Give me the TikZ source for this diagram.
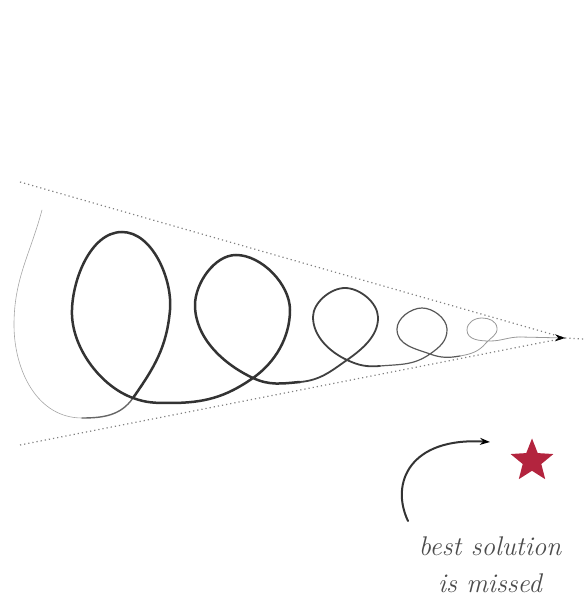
\documentclass[tikz,border=0pt]{standalone}
\usepackage{tikz}
\usetikzlibrary{arrows.meta}
\usetikzlibrary{shapes.geometric}
\definecolor{starred}{HTML}{B3243E}
\begin{document}
\begin{tikzpicture}[
        x=1pt, y=1pt,
        cone/.style={black!50, line width=1.2pt, dash pattern=on 1.2pt off 3pt},
        trail/.style={line cap=round, line join=round},
        faint/.style={trail, black!35, line width=0.6pt},
        light/.style={trail, black!60, line width=1.4pt},
        heavy/.style={trail, black!80, line width=2.5pt},
        medium/.style={trail, black!75, line width=1.8pt},
        fine/.style={trail, black!65, line width=1.2pt},
        hair/.style={trail, black!40, line width=0.8pt},
        arrow/.style={-{Stealth[black, length=10pt, width=7pt]}},
        note/.style={align=center, text=black!70, font=\fontsize{27}{37}\selectfont\itshape}
    ]
        \useasboundingbox (0,0) rectangle (584,605);

        \coordinate (upper) at (20,423);
        \coordinate (lower) at (20,160);
        \coordinate (apex) at (565,267);
        \draw[cone] (upper) -- (apex) -- (584,266);
        \draw[cone] (lower) -- (apex);

        % loops shrinking toward the apex
        \draw[faint] (42,395) to[out=255,in=90] (14,280) to[out=270,in=180] (82,187);
        \draw[light] (82,187) to[out=0,in=235] (133,207);
        \draw[heavy] (133,207) to[out=55,in=265] (170,295)
            to[out=85,in=0,looseness=0.85] (122,373)
            to[out=180,in=92,looseness=0.85] (72,290)
            to[out=272,in=160,looseness=0.85] (133,207) to[out=340,in=180] (170,202)
            to[out=0,in=215] (253,227) to[out=35,in=270,looseness=0.9] (290,295)
            to[out=90,in=0,looseness=0.85] (236,350)
            to[out=180,in=90,looseness=0.85] (195,300)
            to[out=270,in=155,looseness=0.9] (253,227) to[out=335,in=185] (300,223);
        \draw[medium] (300,223) to[out=5,in=215] (347,245) to[out=35,in=272,looseness=0.9] (378,288)
            to[out=92,in=0,looseness=0.85] (345,317) to[out=180,in=90,looseness=0.85] (313,288)
            to[out=270,in=155,looseness=0.9] (347,245) to[out=335,in=185] (380,239);
        \draw[fine] (380,239) to[out=5,in=215] (430,251) to[out=35,in=272] (447,276)
            to[out=92,in=0,looseness=0.85] (422,297) to[out=180,in=90,looseness=0.85] (397,276)
            to[out=270,in=160] (430,251) to[out=340,in=190] (460,249);
        \draw[hair] (460,249) to[out=10,in=230] (486,262) to[out=50,in=275] (497,277)
            to[out=95,in=0] (482,287) to[out=180,in=90] (467,275)
            to[out=270,in=180] (490,264) to[out=0,in=180] (520,268);
        \draw[hair, arrow] (520,268) -- (apex);

        \node[star, star points=5, star point ratio=2.3, fill=starred, minimum size=45pt, inner sep=0pt] (best) at (532,144) {};

        \coordinate (arcstart) at (408,84);
        \coordinate (arcend) at (490,163);
        \draw[trail, black!80, line width=2pt, arrow] (arcstart) .. controls (390,122) and (410,168) .. (arcend);

        \node[note] (missed) at (490,40) {best solution\\is missed};
    \end{tikzpicture}
\end{document}
